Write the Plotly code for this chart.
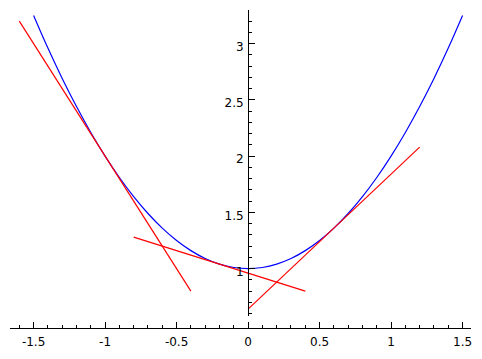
import plotly.graph_objects as go

# Blue curve
curve_x = [-1.5, -1.4, -1.3, -1.2, -1.1, -1.0, -0.9, -0.8, -0.7, -0.6, -0.5, -0.4, -0.3, -0.2, -0.1,
           0.0, 0.1, 0.2, 0.3, 0.4, 0.5, 0.6, 0.7, 0.8, 0.9, 1.0, 1.1, 1.2, 1.3, 1.4, 1.5]
curve_y = [3.25, 2.96, 2.69, 2.44, 2.21, 2.00, 1.81, 1.64, 1.49, 1.36, 1.25, 1.16, 1.09, 1.04, 1.01,
           1.00, 1.01, 1.04, 1.09, 1.16, 1.25, 1.36, 1.49, 1.64, 1.81, 2.00, 2.21, 2.44, 2.69, 2.96, 3.25]

# Red segments
seg1_x = [-1.6, -0.4]
seg1_y = [3.2, 0.8]
seg2_x = [-0.8, 0.4]
seg2_y = [1.28, 0.8]
seg3_x = [0.0, 1.2]
seg3_y = [0.64, 2.08]

x_tickvals = [-1.5, -1.0, -0.5, 0.0, 0.5, 1.0, 1.5]
x_ticktext = ["-1.5", "-1", "-0.5", "0", "0.5", "1", "1.5"]
y_tickvals = [1.0, 1.5, 2.0, 2.5, 3.0]
y_ticktext = ["1", "1.5", "2", "2.5", "3"]

W, H = 482, 359
ml, mr, mt, mb = 10, 10, 10, 26
plot_h = H - mt - mb
x0_px = 248.6
x_scale = 143.3
y_scale = 114.3
y1_px = 272.7
ybot_px = 320.5

x_range = [(ml - x0_px) / x_scale, (W - mr - x0_px) / x_scale]
y_range = [1 - (ybot_px - y1_px) / y_scale, 1 + (y1_px - mt) / y_scale]
y_dom_low = (H - mb - ybot_px) / plot_h
y_pos = (x0_px - ml) / (W - ml - mr)

fig = go.Figure()
fig.add_trace(go.Scatter(x=curve_x, y=curve_y, mode="lines",
                         line=dict(color="#0000ff", width=1.2, shape="spline"),
                         hoverinfo="skip"))
for sx, sy in [(seg1_x, seg1_y), (seg2_x, seg2_y), (seg3_x, seg3_y)]:
    fig.add_trace(go.Scatter(x=sx, y=sy, mode="lines",
                             line=dict(color="#ff0000", width=1.2), hoverinfo="skip"))

fig.update_layout(
    width=W, height=H,
    margin=dict(l=ml, r=mr, t=mt, b=mb),
    paper_bgcolor="white", plot_bgcolor="white",
    showlegend=False,
    font=dict(family="DejaVu Sans", size=12, color="black"),
    xaxis=dict(range=x_range, anchor="free", position=0,
               showgrid=False, zeroline=False,
               showline=True, linecolor="black", linewidth=1,
               tickmode="array", tickvals=x_tickvals, ticktext=x_ticktext,
               ticks="inside", ticklen=6, tickwidth=1, tickcolor="black",
               ticklabelstandoff=3,
               minor=dict(dtick=0.1, tick0=0, ticks="inside", ticklen=3,
                          tickwidth=1, tickcolor="black", showgrid=False)),
    yaxis=dict(range=y_range, domain=[y_dom_low, 1], anchor="free", position=y_pos,
               showgrid=False, zeroline=False,
               showline=True, linecolor="black", linewidth=1,
               tickmode="array", tickvals=y_tickvals, ticktext=y_ticktext,
               ticks="inside", ticklen=6, tickwidth=1, tickcolor="black",
               ticklabelstandoff=2, ticklabelshift=3,
               minor=dict(dtick=0.1, tick0=0, ticks="inside", ticklen=3,
                          tickwidth=1, tickcolor="black", showgrid=False)),
)

fig.write_html("out.html")
